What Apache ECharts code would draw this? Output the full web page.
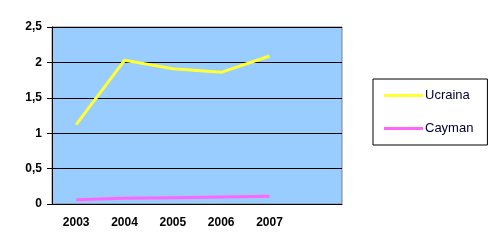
<!DOCTYPE html>
<html><head><meta charset="utf-8">
<script src="https://cdn.jsdelivr.net/npm/echarts@6/dist/echarts.min.js"></script>
<style>html,body{margin:0;padding:0;background:#fff}#c{width:492px;height:250px}</style>
</head><body><div id="c"></div>
<script>
const categories = ['2003','2004','2005','2006','2007',''];
const ucraina = [1.12, 2.03, 1.91, 1.86, 2.09];
const cayman = [0.06, 0.08, 0.09, 0.10, 0.11];
const yTicks = [0, 0.5, 1, 1.5, 2, 2.5];

const chart = echarts.init(document.getElementById('c'), null, {renderer:'canvas'});
chart.setOption({
  animation: false,
  backgroundColor: '#ffffff',
  grid: {left: 52, right: 150, top: 27, bottom: 46, show: true, backgroundColor: '#99CCFF', borderColor: '#808080', borderWidth: 1},
  xAxis: {
    type: 'category', data: categories, boundaryGap: true,
    axisLine: {lineStyle: {color: '#000', width: 1}},
    axisTick: {length: 4, lineStyle: {color: '#000'}},
    axisLabel: {margin: 13, color: '#000', fontFamily: 'Arial, Liberation Sans', fontWeight: 'bold', fontSize: 12}
  },
  yAxis: {
    type: 'value', min: yTicks[0], max: yTicks[yTicks.length-1], interval: 0.5,
    axisLine: {show: true, lineStyle: {color: '#000', width: 1}},
    axisTick: {show: true, length: 5, lineStyle: {color: '#000'}},
    splitLine: {lineStyle: {color: '#000', width: 1}},
    axisLabel: {margin: 10, color: '#000', fontFamily: 'Arial, Liberation Sans', fontWeight: 'bold', fontSize: 12,
      formatter: v => String(v).replace('.', ',')}
  },
  legend: {
    orient: 'vertical', left: 373, top: 79,
    borderColor: '#000', borderWidth: 1, padding: [10, 14, 10, 11],
    itemGap: 20, itemWidth: 39, itemHeight: 3, icon: 'rect',
    textStyle: {fontFamily: 'Arial, Liberation Sans', fontSize: 13, color: '#000033', padding: [0,0,0,-3]},
    data: ['Ucraina', 'Cayman']
  },
  series: [
    {name: 'Ucraina', type: 'line', data: ucraina, showSymbol: false, symbol: 'none',
     lineStyle: {color: '#FFFF33', width: 3}, itemStyle: {color: '#FFFF33'}},
    {name: 'Cayman', type: 'line', data: cayman, showSymbol: false, symbol: 'none',
     lineStyle: {color: '#FF66FF', width: 3}, itemStyle: {color: '#FF66FF'}}
  ]
});
</script></body></html>
